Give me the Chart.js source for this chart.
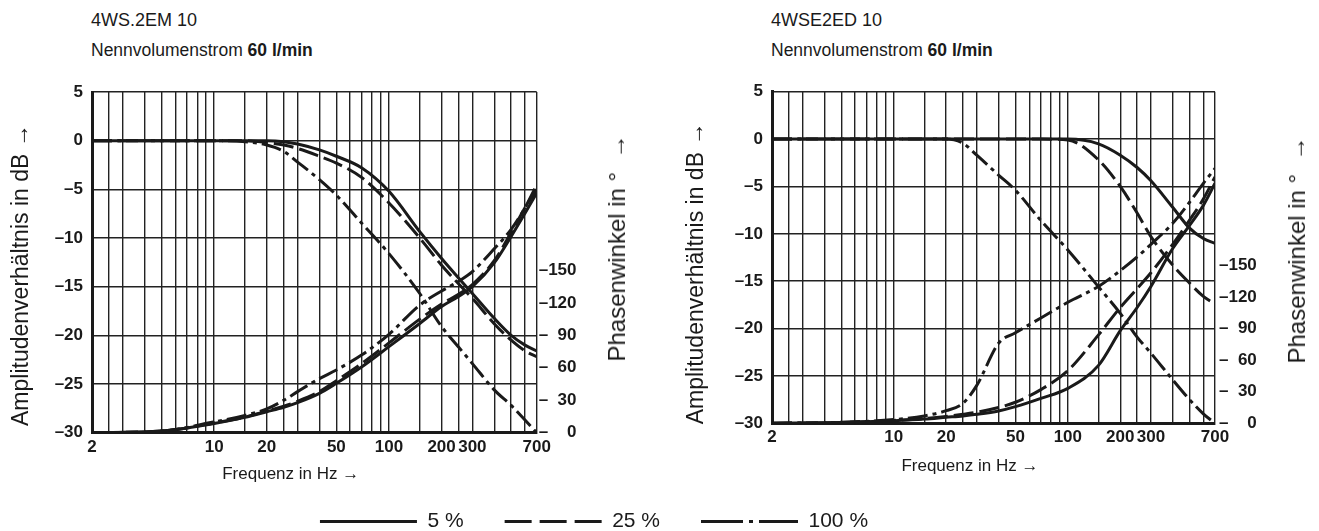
<!DOCTYPE html>
<html><head><meta charset="utf-8">
<script src="https://cdn.jsdelivr.net/npm/chart.js@4.4.1/dist/chart.umd.min.js"></script>
<style>
html,body{margin:0;padding:0;background:#fff;}
body{width:1319px;height:531px;position:relative;overflow:hidden;font-family:'Liberation Sans',Arial,sans-serif;color:#1a1a1a;}
canvas{position:absolute;}
.t{position:absolute;white-space:nowrap;line-height:1;transform:translateY(-50%);}
.rot{position:absolute;font-size:24px;white-space:nowrap;line-height:1;transform:translate(-50%,-50%) rotate(-90deg);}
</style></head><body>
<div class="t" style="left:91px;top:20px;font-size:18px">4WS.2EM 10</div>
<div class="t" style="left:91px;top:51px;font-size:17.5px">Nennvolumenstrom <b>60 l/min</b></div>
<div class="t" style="left:771px;top:20px;font-size:18px">4WSE2ED 10</div>
<div class="t" style="left:771px;top:51px;font-size:17.5px">Nennvolumenstrom <b>60 l/min</b></div>
<canvas id="cL" width="660" height="500" style="left:0;top:0"></canvas>
<canvas id="cR" width="659" height="500" style="left:660px;top:0"></canvas>
<canvas id="cG" width="1319" height="120" style="left:0;top:470px"></canvas>
<div class="rot" style="left:617px;top:248px">Phasenwinkel in °&nbsp;&nbsp;→</div>
<div class="rot" style="left:1297px;top:250px">Phasenwinkel in °&nbsp;&nbsp;→</div>
<script>
// ---- data ----
const FREQ = [2, 5, 10, 15, 20, 25, 30, 40, 50, 70, 100, 150, 200, 250, 300, 400, 500, 600, 700];
const X_GRID = [2, 2.5, 3, 4, 5, 6, 7, 8, 9, 10, 15, 20, 25, 30, 40, 50, 60, 70, 80, 90, 100, 150, 200, 250, 300, 400, 500, 600, 700];
const X_LABELS = [2, 10, 20, 50, 100, 200, 300, 700];
const DB_TICKS = [-30, -25, -20, -15, -10, -5, 0, 5];
const PHASE_TICKS = [0, -30, -60, -90, -120, -150];
const SERIES_NAMES = ['5 %', '25 %', '100 %'];

// 4WS.2EM 10 : amplitude ratio (dB) and phase angle (deg)
const L_AMP_5   = [0, 0, 0, 0, 0, -0.1, -0.35, -0.95, -1.6, -2.8, -5.2, -9.35, -12.1, -14.1, -15.7, -18.25, -20.0, -21.0, -21.6];
const L_AMP_25  = [0, 0, 0, 0, -0.2, -0.45, -0.8, -1.6, -2.3, -3.8, -6.4, -10.0, -12.8, -14.7, -16.2, -18.8, -20.5, -21.6, -22.2];
const L_AMP_100 = [0, 0, 0, -0.1, -0.45, -1.1, -2.2, -4.0, -5.6, -8.5, -11.6, -15.7, -19.1, -21.2, -22.9, -25.6, -27.2, -28.7, -30];
const L_PH_5    = [0, -1.5, -8.6, -14.2, -19.4, -23.5, -27.8, -36.4, -45.7, -61, -79.6, -101, -116.7, -126, -135, -157, -181.5, -203, -221.6];
const L_PH_25   = [0, -1.5, -9, -14.5, -20, -24.5, -29, -38, -48, -64, -83, -105, -119, -128, -137, -159, -185, -208, -225];
const L_PH_100  = [0, -1.5, -10, -16, -22, -30, -38, -50, -58, -72, -91, -118, -131, -140, -149, -170, -188, -208, -229];

// 4WSE2ED 10
const R_AMP_5   = [0, 0, 0, 0, 0, 0, 0, 0, 0, 0, 0, -0.5, -1.7, -3.0, -4.4, -7.2, -9.4, -10.5, -11.0];
const R_AMP_25  = [0, 0, 0, 0, 0, 0, 0, 0, 0, 0, -0.1, -2.2, -5.0, -7.8, -10.3, -13.3, -15.2, -16.6, -17.4];
const R_AMP_100 = [0, 0, 0, 0, 0, -0.45, -1.7, -3.8, -5.4, -8.6, -11.7, -15.6, -18.4, -20.9, -22.6, -25.4, -27.5, -29.0, -30];
const R_PH_5    = [0, -0.8, -2.5, -4, -5.7, -7, -8.5, -11.7, -15.8, -23.7, -33.2, -55, -88, -110, -130, -166, -188, -207, -228];
const R_PH_25   = [0, -0.8, -2.7, -4.5, -6.5, -8.5, -10.5, -15, -20, -32, -50, -84, -110, -128, -143, -170, -193, -213, -234];
const R_PH_100  = [0, -1, -3.5, -7, -12, -19, -36, -76, -86, -100, -115, -130, -145, -158, -170, -190, -210, -228, -242];

// ---- styles ----
const INK = '#1a1a1a';
const GRID = '#222222';
const DASH = [[], [20, 6], [20, 5, 4, 5]];
const LEG_DASH = [[], [27, 8], [42, 6, 4, 6]];
const fontTick = {family: "'Liberation Sans',Arial,sans-serif", size: 17, weight: 'bold'};
const fontTitleY = {family: "'Liberation Sans',Arial,sans-serif", size: 23};
const fontTitleX = {family: "'Liberation Sans',Arial,sans-serif", size: 17};
const NB = '\u00a0';

function pts(vals) { return FREQ.map((f, i) => ({x: f, y: vals[i]})); }
function ds(label, vals, style, axis) {
  return {label, data: pts(vals), yAxisID: axis, borderColor: INK, borderWidth: 3,
    borderDash: DASH[style], pointRadius: 0, pointStyle: 'line', fill: false,
    cubicInterpolationMode: 'monotone'};
}
function fmtDb(v) { return v < 0 ? '\u2013' + Math.abs(v) : String(v); }
function fmtPh(v) { return '\u2013' + String(Math.abs(v)).padStart(3, '\u2007'); }

function makeChart(id, g, amp, ph) {
  const sets = [
    ds(SERIES_NAMES[0], amp[0], 0, 'y'), ds(SERIES_NAMES[1], amp[1], 1, 'y'), ds(SERIES_NAMES[2], amp[2], 2, 'y'),
    ds(SERIES_NAMES[0], ph[0], 0, 'y2'), ds(SERIES_NAMES[1], ph[1], 1, 'y2'), ds(SERIES_NAMES[2], ph[2], 2, 'y2')
  ];
  return new Chart(document.getElementById(id), {
    type: 'line',
    data: {datasets: sets},
    options: {
      responsive: false, animation: false, devicePixelRatio: 1,
      layout: {padding: {top: g.top, left: 0, right: 0, bottom: 0}},
      plugins: {legend: {display: false}, tooltip: {enabled: false}},
      scales: {
        x: {type: 'logarithmic', min: 2, max: 700,
          afterBuildTicks: s => { s.ticks = X_GRID.map(v => ({value: v})); },
          afterFit: s => { s.height = g.H - g.bottom; },
          ticks: {autoSkip: false, maxRotation: 0, minRotation: 0, padding: 4, font: fontTick, color: INK,
            callback: v => X_LABELS.includes(v) ? String(v) : ''},
          grid: {color: GRID, lineWidth: 1.4, drawTicks: false},
          border: {display: true, color: INK, width: 3},
          title: {display: true, text: 'Frequenz in Hz \u2192' + NB.repeat(10), font: fontTitleX, color: INK,
            padding: {top: 0, bottom: g.xtp}}},
        y: {type: 'linear', position: 'left', min: -30, max: 5,
          afterBuildTicks: s => { s.ticks = DB_TICKS.map(v => ({value: v})); },
          afterFit: s => { s.width = g.left; },
          ticks: {padding: 9, font: fontTick, color: INK, callback: v => fmtDb(v)},
          grid: {color: GRID, lineWidth: 1.4, drawTicks: false},
          border: {display: true, color: INK, width: 3},
          title: {display: true, text: 'Amplitudenverh\u00e4ltnis in dB \u2192' + NB.repeat(g.ysh), font: fontTitleY, color: INK,
            padding: {top: g.ytp, bottom: 0}}},
        y2: {type: 'linear', position: 'right', min: -315, max: 0, reverse: true,
          afterBuildTicks: s => { s.ticks = PHASE_TICKS.map(v => ({value: v})); },
          afterFit: s => { s.width = g.W - g.right; },
          ticks: {padding: g.y2p, font: fontTick, color: INK, callback: v => fmtPh(v)},
          grid: {drawOnChartArea: false, drawTicks: false},
          border: {display: false}}
      }
    }
  });
}

makeChart('cL', {W: 660, H: 500, left: 92, right: 536.7, top: 92, bottom: 432.7, xtp: 15.8, ytp: 8.2, ysh: 4, y2p: 2},
  [L_AMP_5, L_AMP_25, L_AMP_100], [L_PH_5, L_PH_25, L_PH_100]);
makeChart('cR', {W: 659, H: 500, left: 112, right: 555, top: 91.7, bottom: 423.3, xtp: 23.8, ytp: 23.2, ysh: 5, y2p: 4},
  [R_AMP_5, R_AMP_25, R_AMP_100], [R_PH_5, R_PH_25, R_PH_100]);

// legend
new Chart(document.getElementById('cG'), {
  type: 'line',
  data: {datasets: SERIES_NAMES.map((n, i) => ({label: n, data: [], borderColor: INK, borderWidth: 3,
    borderDash: LEG_DASH[i], pointStyle: 'line', pointRadius: 0}))},
  options: {
    responsive: false, animation: false, devicePixelRatio: 1,
    layout: {padding: {left: 0, right: 131, top: 0, bottom: 0}},
    scales: {x: {display: false}, y: {display: false}},
    plugins: {tooltip: {enabled: false},
      legend: {display: true, position: 'top', align: 'center',
        labels: {usePointStyle: true, pointStyleWidth: 97, boxHeight: 20, padding: 41,
          font: {family: "'Liberation Sans',Arial,sans-serif", size: 21}, color: INK,
          generateLabels: chart => chart.data.datasets.map((d, i) => ({
            text: d.label, fillStyle: 'rgba(0,0,0,0)', strokeStyle: INK, fontColor: INK,
            lineWidth: 3, lineDash: LEG_DASH[i], lineCap: 'butt', pointStyle: 'line',
            rotation: 0, hidden: false, datasetIndex: i}))}}}
  }
});
</script>
</body></html>
